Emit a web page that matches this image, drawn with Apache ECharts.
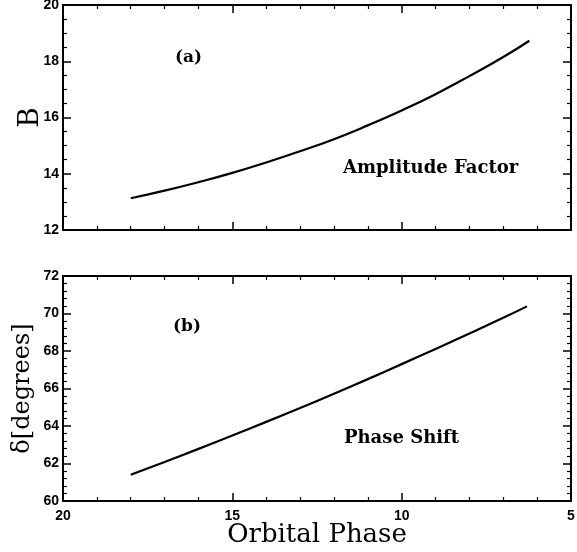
<!DOCTYPE html>
<html>
<head>
<meta charset="utf-8">
<script src="https://cdn.jsdelivr.net/npm/echarts@6/dist/echarts.min.js"></script>
<style>
html, body { margin: 0; padding: 0; background: #fff; }
#chart { width: 577px; height: 552px; }
</style>
</head>
<body>
<div id="chart"></div>
<script>
// panel (a): amplitude factor B vs orbital phase
var phaseA = [18.0, 17.0, 16.0, 15.0, 14.0, 13.0, 12.0, 11.0, 10.0, 9.0, 8.0, 7.0, 6.23];
var ampB   = [13.13, 13.40, 13.70, 14.03, 14.40, 14.80, 15.23, 15.72, 16.25, 16.83, 17.47, 18.15, 18.73];
// panel (b): phase shift delta vs orbital phase
var phaseB = [18.0, 17.0, 16.0, 15.0, 14.0, 13.0, 12.0, 11.0, 10.0, 9.0, 8.0, 7.0, 6.3];
var shiftD = [61.40, 62.08, 62.78, 63.49, 64.22, 64.96, 65.72, 66.50, 67.30, 68.11, 68.93, 69.77, 70.38];

var chart = echarts.init(document.getElementById('chart'));

function zip(xs, ys) {
    return xs.map(function (x, i) { return [x, ys[i]]; });
}

var tickFont = { color: '#000', fontFamily: 'Liberation Sans', fontWeight: 'bold', fontSize: 14 };

function xAx(grid, pos, labels) {
    return {
        type: 'value', gridIndex: grid, position: pos,
        min: 5, max: 20, interval: 5, inverse: true,
        axisLine: { show: true, onZero: false, lineStyle: { color: '#000', width: 2 } },
        axisTick: { show: true, inside: true, length: 8, lineStyle: { color: '#000', width: 1.5 } },
        minorTick: { show: true, splitNumber: 5, length: 4, lineStyle: { color: '#000', width: 1.2 } },
        splitLine: { show: false },
        axisLabel: Object.assign({ show: labels, margin: 8 }, tickFont),
        name: labels ? 'Orbital Phase' : '',
        nameLocation: 'middle', nameGap: 21, nameMoveOverlap: false,
        nameTextStyle: { color: '#000', fontFamily: 'DejaVu Serif', fontSize: 26 }
    };
}

function yAx(grid, pos, min, max, minor, name, gap) {
    var labels = pos === 'left';
    return {
        type: 'value', gridIndex: grid, position: pos,
        min: min, max: max, interval: 2,
        axisLine: { show: true, onZero: false, lineStyle: { color: '#000', width: 2 } },
        axisTick: { show: true, inside: true, length: 8, lineStyle: { color: '#000', width: 1.5 } },
        minorTick: { show: true, splitNumber: minor, length: 4, lineStyle: { color: '#000', width: 1.2 } },
        splitLine: { show: false },
        axisLabel: Object.assign({ show: labels, margin: 4 }, tickFont),
        name: labels ? name : '',
        nameLocation: 'middle', nameGap: gap, nameRotate: 90, nameMoveOverlap: false,
        nameTextStyle: { color: '#000', fontFamily: 'DejaVu Serif', fontSize: name === 'B' ? 28 : 24 }
    };
}

var noteFont = { fill: '#000', fontFamily: 'DejaVu Serif', fontWeight: 'bold', fontSize: 17 };

var option = {
    animation: false,
    backgroundColor: '#fff',
    grid: [
        { left: 63, top: 5, width: 508, height: 225, outerBoundsMode: 'none', containLabel: false },
        { left: 63, top: 276, width: 508, height: 225, outerBoundsMode: 'none', containLabel: false }
    ],
    xAxis: [
        xAx(0, 'bottom', false),
        xAx(0, 'top', false),
        xAx(1, 'bottom', true),
        xAx(1, 'top', false)
    ],
    yAxis: [
        yAx(0, 'left', 12, 20, 4, 'B', 18),
        yAx(0, 'right', 12, 20, 4, '', 0),
        yAx(1, 'left', 60, 72, 5, 'δ[degrees]', 28),
        yAx(1, 'right', 60, 72, 5, '', 0)
    ],
    series: [
        {
            type: 'line', xAxisIndex: 0, yAxisIndex: 0,
            data: zip(phaseA, ampB), smooth: true, showSymbol: false,
            lineStyle: { color: '#000', width: 2.2 }
        },
        {
            type: 'line', xAxisIndex: 2, yAxisIndex: 2,
            data: zip(phaseB, shiftD), smooth: true, showSymbol: false,
            lineStyle: { color: '#000', width: 2.2 }
        }
    ],
    graphic: [
        { type: 'text', left: 175, top: 49, style: Object.assign({}, noteFont, { text: '(a)' }) },
        { type: 'text', left: 343, top: 159, style: Object.assign({}, noteFont, { text: 'Amplitude Factor', fontSize: 18 }) },
        { type: 'text', left: 173, top: 318, style: Object.assign({}, noteFont, { text: '(b)' }) },
        { type: 'text', left: 344, top: 429, style: Object.assign({}, noteFont, { text: 'Phase Shift', fontSize: 18 }) }
    ]
};

chart.setOption(option);
window.addEventListener('resize', function () { chart.resize(); });
</script>
</body>
</html>
